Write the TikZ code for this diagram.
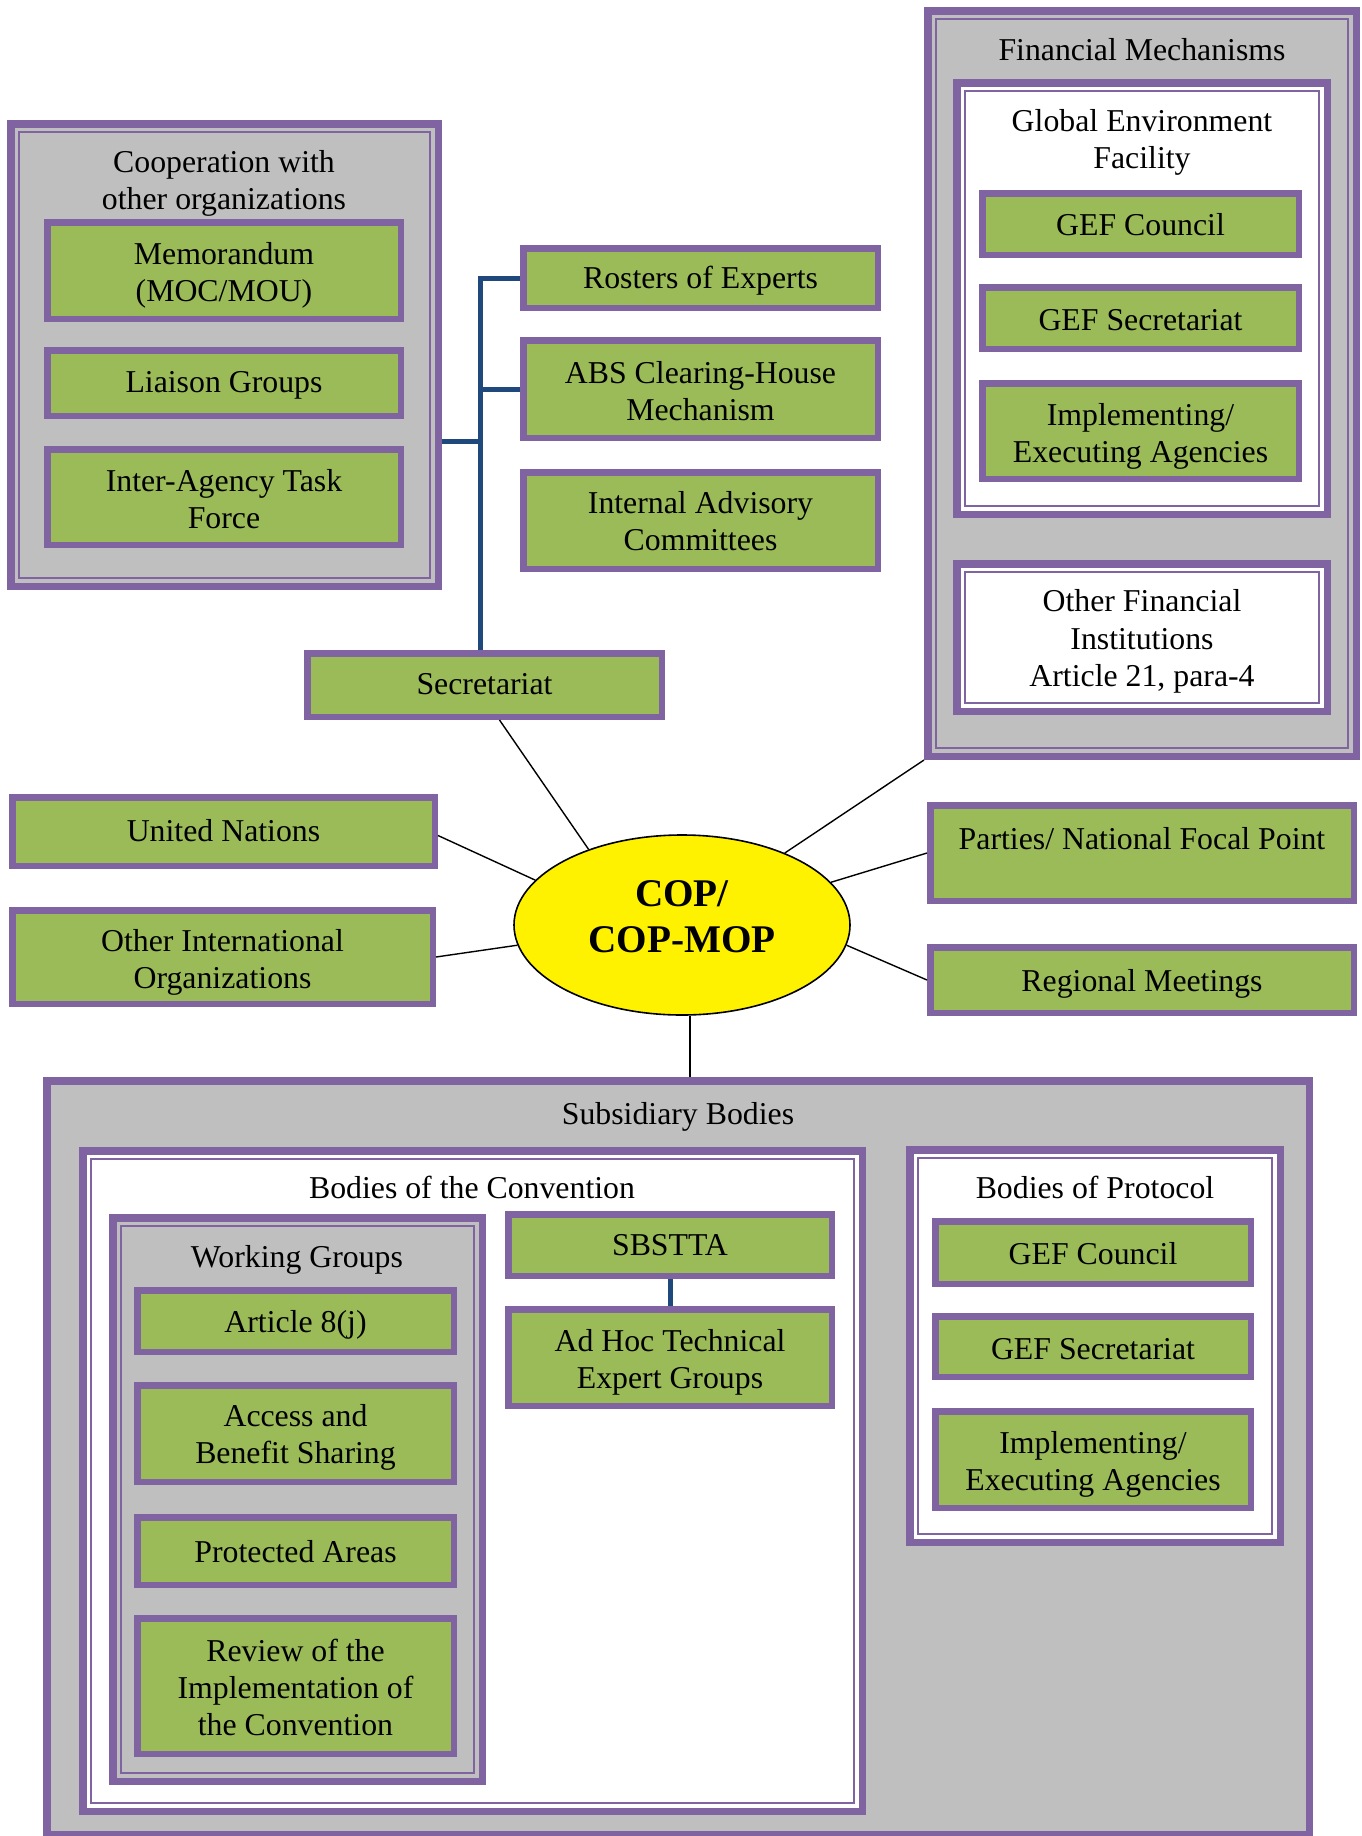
\documentclass[tikz,border=0pt]{standalone}
\usepackage{fontspec}
\setmainfont{Liberation Serif}
\usetikzlibrary{shapes.geometric}
\definecolor{purp}{HTML}{8064A2}
\definecolor{grn}{HTML}{9BBB59}
\definecolor{gry}{HTML}{BFBFBF}
\definecolor{busblue}{HTML}{1F497D}
\newcommand\fsz{\fontsize{15.9pt}{18.6pt}\selectfont}
% name, x1, y1, x2, y2, text, text offset (px, downward)
\newcommand\gb[7]{\node[gbox, minimum width={(#4-#2-6.5)*0.5pt}, minimum height={(#5-#3-6.5)*0.5pt}] (#1) at ({(#2+#4)/2},{(#3+#5)/2}) {};
\node[ttl] (#1t) at ({(#2+#4)/2},{(#3+#5)/2+#7}) {#6};}
\newcommand\cbx[6]{\node[cont, fill=#6, minimum width={(#4-#2-7.5)*0.5pt}, minimum height={(#5-#3-7.5)*0.5pt}] (#1) at ({(#2+#4)/2},{(#3+#5)/2}) {};
\draw[purp, line width=1pt] ([shift={(12,12)}]#1.north west) rectangle ([shift={(-12,-12)}]#1.south east);}
\begin{document}
\begin{tikzpicture}[x=0.5pt,y=-0.5pt,
  gbox/.style={draw=purp, fill=grn, line width=3.25pt, rectangle, inner sep=0pt},
  cont/.style={draw=purp, line width=3.75pt, rectangle, inner sep=0pt},
  ttl/.style={inner sep=0pt, align=center, font=\fsz},
  conn/.style={draw=black, line width=0.7pt},
  bus/.style={draw=busblue, line width=2.5pt}]
\fill[white] (0,0) rectangle (1361,1836);
\useasboundingbox (0,0) rectangle (1361,1836);

% Cooperation
\cbx{coop}{7}{120}{442}{590}{gry}
\node[ttl] (coopt) at (224,183.5) {Cooperation with\\other organizations};
\gb{mem}{44}{219}{404}{322}{Memorandum\\(MOC/MOU)}{5}
\gb{lia}{44}{347}{404}{419}{Liaison Groups}{2.5}
\gb{iat}{44}{446}{404}{548}{Inter-Agency Task\\Force}{2.5}

% Secretariat column
\gb{ros}{520}{245}{881}{311}{Rosters of Experts}{2.5}
\gb{abs}{520}{337}{881}{441}{ABS Clearing-House\\Mechanism}{2}
\gb{iac}{520}{469}{881}{572}{Internal Advisory\\Committees}{1}
\gb{sec}{304}{650}{665}{720}{Secretariat}{-1}

% Financial mechanisms
\cbx{fin}{924}{7}{1360}{760}{gry}
\node[ttl] (fint) at (1142,50) {Financial Mechanisms};
\cbx{gef}{953}{79}{1331}{518}{white}
\node[ttl] (geft) at (1142,142.5) {Global Environment\\Facility};
\gb{gefc}{979}{190}{1302}{258}{GEF Council}{1}
\gb{gefs}{979}{284}{1302}{352}{GEF Secretariat}{2.5}
\gb{impl}{979}{380}{1302}{482}{Implementing/\\Executing Agencies}{5.5}
\cbx{ofi}{953}{560}{1331}{715}{white}
\node[ttl] (ofit) at (1142,641.5) {Other Financial\\Institutions\\Article 21, para-4};

% Side boxes
\gb{un}{9}{794}{438}{869}{United Nations}{-1}
\gb{oio}{9}{907}{436}{1007}{Other International\\Organizations}{5}
\gb{par}{927}{802}{1357}{904}{}{0}
\node[ttl] (part) at (1142,839) {Parties/ National Focal Point};
\gb{reg}{927}{944}{1357}{1016}{Regional Meetings}{3.5}

% COP
\node[ellipse, draw=black, line width=0.8pt, fill=yellow, minimum width=168pt, minimum height=90pt, inner sep=0pt] (cop) at (682,925) {};
\node[inner sep=0pt, align=center, font=\fontsize{19.6pt}{23pt}\selectfont\bfseries] (copt) at (682,917) {COP/\\COP-MOP};

% Subsidiary bodies
\node[cont, fill=gry, minimum width={(1313-43-7.5)*0.5pt}, minimum height={(1838-1077-7.5)*0.5pt}] (sub) at ({(43+1313)/2},{(1077+1838)/2}) {};
\node[ttl] (subt) at (678,1116.5) {Subsidiary Bodies};
\cbx{boc}{79}{1147}{866}{1815}{white}
\node[ttl] (boct) at (472,1187.5) {Bodies of the Convention};
\cbx{wg}{109}{1214}{486}{1785}{gry}
\node[ttl] (wgt) at (297,1259.5) {Working Groups};
\gb{art}{134}{1287}{457}{1355}{Article 8(j)}{3.5}
\gb{abs2}{134}{1382}{457}{1485}{Access and\\Benefit Sharing}{3.5}
\gb{pa}{134}{1514}{457}{1588}{Protected Areas}{0.5}
\gb{rev}{134}{1615}{457}{1757}{Review of the\\Implementation of\\the Convention}{1.5}
\gb{sbs}{505}{1211}{835}{1279}{SBSTTA}{0.5}
\gb{adh}{505}{1306}{835}{1409}{Ad Hoc Technical\\Expert Groups}{4.5}
\cbx{bop}{906}{1146}{1284}{1546}{white}
\node[ttl] (bopt) at (1095,1187.5) {Bodies of Protocol};
\gb{pgc}{932}{1218}{1254}{1287}{GEF Council}{1}
\gb{pgs}{932}{1313}{1254}{1380}{GEF Secretariat}{2.5}
\gb{pimp}{932}{1408}{1254}{1511}{Implementing/\\Executing Agencies}{5}

% Blue bus
\coordinate (bt) at (480,278);
\coordinate (bj) at (480,441);
\draw[bus] (ros.west |- bt) -- (bt) -- (bt |- sec.north);
\draw[bus] (bt |- abs.west) -- (abs.west);
\draw[bus] (bj) -- (bj -| coop.east);
\draw[bus] (sbs.south) -- (adh.north);

% Connectors from COP
\draw[conn] ([shift={(15,0)}]sec.south) -- (cop.141);
\draw[conn] (cop.35.6) -- (fin.south west);
\draw[conn] ([shift={(0,4)}]un.east) -- (cop.163);
\draw[conn] (oio.east) -- (cop.187);
\draw[conn] (cop.16.7) -- (par.west);
\draw[conn] (cop.-7.3) -- (reg.west);
\draw[conn] ([shift={(8,0)}]cop.south) -- ([shift={(8,0)}]cop.south |- sub.north);
\end{tikzpicture}
\end{document}
